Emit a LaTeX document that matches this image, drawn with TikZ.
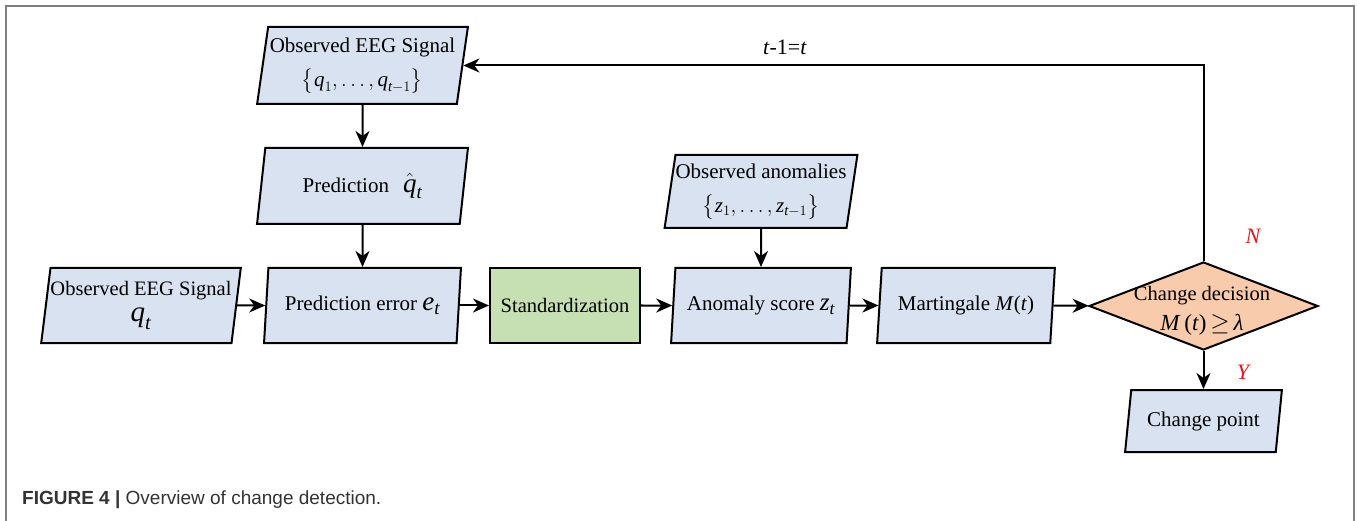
\documentclass[tikz,border=0pt]{standalone}
\usepackage{amsmath}
\usepackage{fontspec}
\setmainfont{Liberation Serif}
\newfontfamily\capfont{Liberation Sans}
\usetikzlibrary{shapes.geometric,arrows.meta}
\definecolor{boxblue}{HTML}{D9E2F1}
\definecolor{boxgreen}{HTML}{C6E0B4}
\definecolor{boxorange}{HTML}{F7CBAC}
\definecolor{framegray}{HTML}{7F7F7F}
\definecolor{captext}{HTML}{333333}
\definecolor{labred}{HTML}{E8141B}
\newcommand\mv[1]{\textit{#1}}
\begin{document}
\begin{tikzpicture}[x=1pt,y=-1pt,
  para/.style={trapezium, trapezium left angle=79, trapezium right angle=101,
    trapezium stretches=true, draw=black, line width=2pt, fill=boxblue,
    inner sep=0pt, font=\fontsize{21}{34}\selectfont, align=center},
  procbox/.style={rectangle, draw=black, line width=2pt, fill=boxgreen,
    inner sep=0pt, font=\fontsize{20.5}{24}\selectfont},
  decbox/.style={diamond, draw=black, line width=2pt, fill=boxorange, inner sep=0pt},
  txt/.style={inner sep=0pt, align=center, font=\fontsize{20.5}{30}\selectfont},
  arr/.style={line width=2pt, -{Stealth[length=16pt,width=14pt,inset=5pt]}},
  lab/.style={inner sep=0pt, font=\fontsize{22}{24}\selectfont},
  yn/.style={inner sep=0pt, text=labred, font=\fontsize{22}{24}\selectfont\itshape}]
\useasboundingbox (0,0) rectangle (1357,521);
\draw[framegray, line width=2pt] (6,521) -- (6,6) -- (1354,6) -- (1354,521);

\node[para, minimum width=211, minimum height=77] (obs1) at (362.5,65.5)
  {Observed EEG Signal\\[0pt] $\bigl\{\mv{q}_{1},\ldots,\mv{q}_{\mv{t}-1}\bigr\}$};
\node[para, minimum width=211, minimum height=76] (pred) at (362.5,186)
  {Prediction\hspace{14pt}{\fontsize{27}{27}\selectfont$\hat{\mv{q}}_{\mv{t}}$}};
\node[para, minimum width=194, minimum height=75, font=\fontsize{20.5}{34}\selectfont] (obsq) at (141,305.5)
  {Observed EEG Signal\\[-8pt] {\fontsize{29}{29}\selectfont$\mv{q}_{\mv{t}}$}};
\node[para, minimum width=197, minimum height=75] (perr) at (362.5,305.5)
  {Prediction error {\fontsize{27}{27}\selectfont$\mv{e}_{\mv{t}}$}};
\node[procbox, minimum width=150, minimum height=75] (std) at (565,305.5) {Standardization};
\node[para, minimum width=193, minimum height=73] (obsa) at (761,191.5)
  {Observed anomalies\\[0pt] $\bigl\{\mv{z}_{1},\ldots,\mv{z}_{\mv{t}-1}\bigr\}$};
\node[para, minimum width=180, minimum height=75] (anom) at (761,305.5)
  {Anomaly score {\fontsize{25}{25}\selectfont$\mv{z}_{\mv{t}}$}};
\node[para, minimum width=178, minimum height=75] (mart) at (966,305.5)
  {Martingale \mv{M}(\mv{t})};
\node[decbox, minimum width=229, minimum height=88] (dec) at (1203.5,306) {};
\node[txt] (dectext) at (1202,311)
  {Change decision\\[0pt] {\fontsize{23}{23}\selectfont\mv{M}\,(\mv{t})\,$\geq$\,\mv{λ}}};
\node[para, trapezium left angle=76, trapezium right angle=104,
  minimum width=157, minimum height=62] (cp) at (1203.5,421) {Change point};

\draw[arr] (obs1) -- (pred);
\draw[arr] (pred) -- (perr);
\draw[arr] (obsq) -- (perr);
\draw[arr] (perr) -- (std);
\draw[arr] (std) -- (anom);
\draw[arr] (obsa) -- (anom);
\draw[arr] (anom) -- (mart);
\draw[arr] (mart) -- (dec);
\draw[arr] (dec) -- (cp);
\draw[arr] (dec.north) |- (obs1);

\node[lab] (fb) at (785,47) {\mv{t}-1=\mv{t}};
\node[yn] (nlab) at (1253,236) {N};
\node[yn] (ylab) at (1243,372) {Y};

\node[anchor=base west, inner sep=0pt, text=captext,
  font=\capfont\fontsize{19}{21}\selectfont] (cap) at (22,504)
  {\textbf{FIGURE 4 |} Overview of change detection.};
\end{tikzpicture}
\end{document}
